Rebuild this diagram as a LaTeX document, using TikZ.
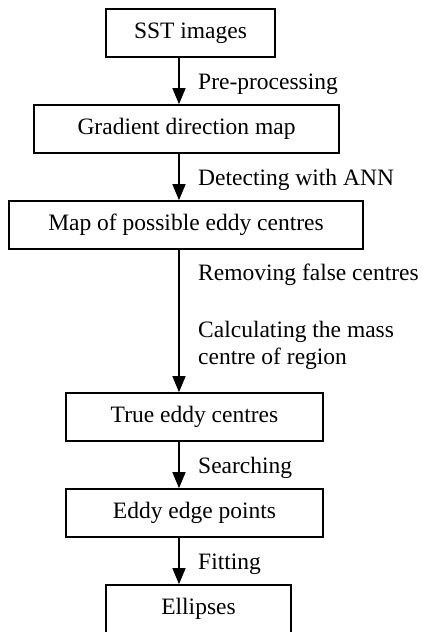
\documentclass[tikz,border=0pt]{standalone}
\usepackage{fontspec}
\setmainfont{Liberation Serif}
\usetikzlibrary{arrows.meta}
\tikzset{
  box/.style={draw, line width=1.6pt, inner sep=0pt, minimum height=48pt, font=\fontsize{23.5}{27}\selectfont},
  arr/.style={line width=1.3pt, -{Triangle[length=16pt,width=13pt]}},
  lbl/.style={anchor=base west, inner sep=0pt, align=left, font=\fontsize{23.5}{27}\selectfont}
}
\begin{document}
\begin{tikzpicture}[x=1pt,y=-1pt]
\useasboundingbox (0,0) rectangle (423,632);
\node[box, minimum width=169pt] (a) at (190.5,33) {SST images};
\node[box, minimum width=305pt] (b) at (186.5,129) {Gradient direction map};
\node[box, minimum width=354pt] (c) at (186,225) {Map of possible eddy centres};
\node[box, minimum width=257pt] (d) at (194.5,417) {True eddy centres};
\node[box, minimum width=257pt] (e) at (194.5,513) {Eddy edge points};
\node[box, minimum width=185pt] (f) at (198.5,609) {Ellipses};
\coordinate (x) at (179,0);
\draw[arr] (a.south -| x) -- (b.north -| x);
\draw[arr] (b.south -| x) -- (c.north -| x);
\draw[arr] (c.south -| x) -- (d.north -| x);
\draw[arr] (d.south -| x) -- (e.north -| x);
\draw[arr] (e.south -| x) -- (f.north -| x);
\node[lbl] (l1) at (198,89) {Pre-processing};
\node[lbl] (l2) at (198,185) {Detecting with ANN};
\node[lbl] (l3) at (198,280) {Removing false centres};
\node[lbl] (l4) at (198,337) {Calculating the mass};
\node[lbl] (l5) at (198,364) {centre of region};
\node[lbl] (l6) at (198,473) {Searching};
\node[lbl] (l7) at (198,569) {Fitting};
\end{tikzpicture}
\end{document}
